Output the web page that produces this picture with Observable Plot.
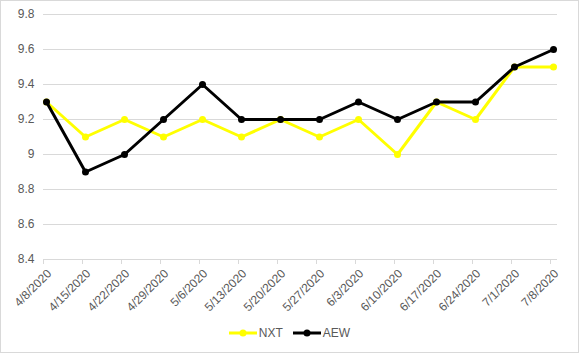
<!DOCTYPE html>
<html>
<head>
<meta charset="utf-8">
<script src="https://cdn.jsdelivr.net/npm/d3@7"></script>
<script src="https://cdn.jsdelivr.net/npm/@observablehq/plot@0.6"></script>
<style>
  html, body { margin: 0; padding: 0; background: #fff; }
  #frame { position: absolute; left: 0; top: 0; width: 577px; height: 351px; border: 1px solid #d9d9d9; background: #fff; font-family: "Liberation Sans", Arial, sans-serif; }
  #legend { height: 28px; display: flex; justify-content: center; align-items: center; gap: 10px; font-size: 12px; color: #595959; padding-bottom: 5px; }
  .item { display: flex; align-items: center; }
  .item svg { margin-right: 2px; }
</style>
</head>
<body>
<div id="frame"><div id="chart"></div><div id="legend"></div></div>
<script>
const dates = ["4/8/2020","4/15/2020","4/22/2020","4/29/2020","5/6/2020","5/13/2020","5/20/2020","5/27/2020","6/3/2020","6/10/2020","6/17/2020","6/24/2020","7/1/2020","7/8/2020"];
const nxt = [9.3, 9.1, 9.2, 9.1, 9.2, 9.1, 9.2, 9.1, 9.2, 9.0, 9.3, 9.2, 9.5, 9.5];
const aew = [9.3, 8.9, 9.0, 9.2, 9.4, 9.2, 9.2, 9.2, 9.3, 9.2, 9.3, 9.3, 9.5, 9.6];
const yTicks = [8.4, 8.6, 8.8, 9, 9.2, 9.4, 9.6, 9.8];
const seriesNames = ["NXT", "AEW"];
const colors = ["#FFFF00", "#000000"];

const nxtData = dates.map((d, i) => ({date: d, value: nxt[i]}));
const aewData = dates.map((d, i) => ({date: d, value: aew[i]}));

const chart = Plot.plot({
  width: 577,
  height: 318,
  marginTop: 13,
  marginBottom: 60,
  marginLeft: 45,
  marginRight: 25,
  style: {fontFamily: '"Liberation Sans", Arial, sans-serif', fontSize: "12px", color: "#595959", background: "#fff"},
  x: {type: "point", domain: dates, padding: 0},
  y: {domain: [8.4, 9.8]},
  marks: [
    Plot.ruleY(yTicks, {stroke: "#d9d9d9", strokeWidth: 1, insetLeft: -3, insetRight: -4}),
    Plot.axisY({ticks: yTicks, tickSize: 0, tickPadding: 12, tickFormat: d => String(d), fill: "#595959", label: null}),
    Plot.axisX({tickSize: 5, stroke: "#d9d9d9", text: null, label: null, dx: -3}),
    Plot.axisX({tickSize: 0, tickRotate: -45, tickPadding: 10, fill: "#595959", label: null, dx: 3, dy: 2}),
    Plot.line(nxtData, {x: "date", y: "value", stroke: colors[0], strokeWidth: 3}),
    Plot.dot(nxtData, {x: "date", y: "value", fill: colors[0], r: 3.5}),
    Plot.line(aewData, {x: "date", y: "value", stroke: colors[1], strokeWidth: 3}),
    Plot.dot(aewData, {x: "date", y: "value", fill: colors[1], r: 3.5})
  ]
});
document.getElementById("chart").appendChild(chart);

const legend = document.getElementById("legend");
seriesNames.forEach((name, i) => {
  const item = document.createElement("div");
  item.className = "item";
  item.innerHTML = `<svg width="28" height="10"><line x1="0" y1="5" x2="28" y2="5" stroke="${colors[i]}" stroke-width="3"/><circle cx="14" cy="5" r="3.5" fill="${colors[i]}"/></svg><span>${name}</span>`;
  legend.appendChild(item);
});
</script>
</body>
</html>
